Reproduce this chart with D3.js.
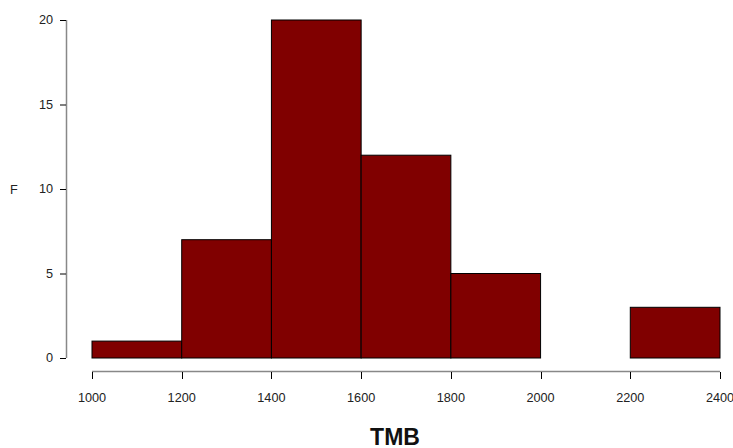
<!DOCTYPE html>
<html><head><meta charset="utf-8">
<script src="https://cdn.jsdelivr.net/npm/d3@7"></script>
<style>body{margin:0;background:#fff;}svg{display:block;font-family:"Liberation Sans",Arial,sans-serif;}</style>
</head><body>
<svg id="c" width="733" height="448"></svg>
<script>
const binStarts = [1000, 1200, 1400, 1600, 1800, 2000, 2200];
const binWidth = 200;
const counts = [1, 7, 20, 12, 5, 0, 3];
const xTicks = [1000, 1200, 1400, 1600, 1800, 2000, 2200, 2400];
const yTicks = [0, 5, 10, 15, 20];

const svg = d3.select("#c");
const x = d3.scaleLinear().domain([1000, 2400]).range([92, 720]);
const y = d3.scaleLinear().domain([0, 20]).range([358, 20]);

svg.selectAll("rect.bar").data(binStarts).join("rect")
  .attr("class","bar")
  .attr("x", d => x(d))
  .attr("y", (d,i) => y(counts[i]))
  .attr("width", d => x(d+binWidth) - x(d))
  .attr("height", (d,i) => y(0) - y(counts[i]))
  .attr("fill", "#800000")
  .attr("stroke", "#000")
  .attr("stroke-width", 1);

// y axis
const ya = svg.append("g");
ya.append("line").attr("x1",66.5).attr("x2",66.5).attr("y1",y(20)).attr("y2",y(0)).attr("stroke","#888").attr("stroke-width",1.5);
ya.selectAll("line.t").data(yTicks).join("line").attr("class","t")
  .attr("x1",60).attr("x2",66).attr("y1",d=>y(d)+0.5).attr("y2",d=>y(d)+0.5).attr("stroke","#000");
ya.selectAll("text").data(yTicks).join("text")
  .attr("x",53).attr("y",d=>y(d)).attr("dy","0.35em").attr("text-anchor","end")
  .attr("font-size",12.7).attr("fill","#222").text(d=>d);

// x axis
const xa = svg.append("g");
xa.append("line").attr("x1",x(1000)).attr("x2",x(2400)).attr("y1",371.5).attr("y2",371.5).attr("stroke","#888").attr("stroke-width",1.5);
xa.selectAll("line.t").data(xTicks).join("line").attr("class","t")
  .attr("x1",d=>Math.round(x(d))+0.5).attr("x2",d=>Math.round(x(d))+0.5).attr("y1",372).attr("y2",379).attr("stroke","#000");
xa.selectAll("text").data(xTicks).join("text")
  .attr("x",d=>x(d)).attr("y",398).attr("dy","0.35em").attr("text-anchor","middle")
  .attr("font-size",12.7).attr("fill","#222").text(d=>d);

svg.append("text").attr("x",395).attr("y",444.5).attr("text-anchor","middle")
  .attr("font-size",23).attr("font-weight","bold").attr("fill","#111").text("TMB");
svg.append("text").attr("x",14).attr("y",190).attr("dy","0.35em").attr("text-anchor","middle")
  .attr("font-size",12.7).attr("fill","#222").text("F");
</script>
</body></html>
